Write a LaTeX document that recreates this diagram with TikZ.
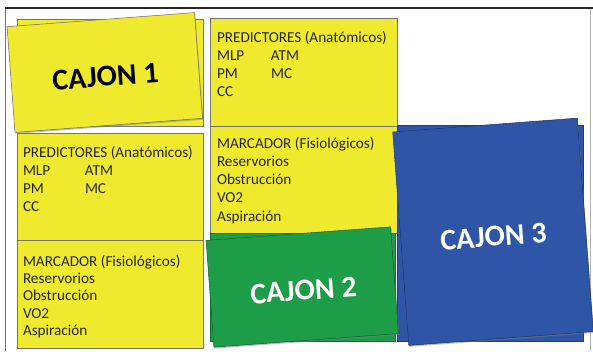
\documentclass[tikz,border=0pt]{standalone}
\usepackage{fontspec}
\setmainfont{Carlito}
\usetikzlibrary{shadows}
\definecolor{cardyellow}{RGB}{240,234,46}
\definecolor{cardgreen}{RGB}{30,157,72}
\definecolor{cardblue}{RGB}{47,86,166}
\definecolor{inktext}{RGB}{38,38,30}
\begin{document}
\begin{tikzpicture}[x=1pt,y=-1pt,
  base/.style={inner sep=0pt, outer sep=0pt},
  cell/.style={base, anchor=north west, fill=cardyellow, draw=black!55, line width=0.5pt,
    drop shadow={shadow xshift=0.8pt, shadow yshift=-1pt, opacity=0.35}},
  card/.style={base, draw=black!60, line width=0.5pt,
    drop shadow={shadow xshift=0.8pt, shadow yshift=-1.4pt, opacity=0.5}},
  cardtext/.style={base, font=\fontsize{30}{36}\selectfont\bfseries},
  txt/.style={base, anchor=base west, text=inktext, font=\fontsize{15.2}{18.3}\selectfont},
  txtb/.style={txt, font=\fontsize{15.2}{17.2}\selectfont}]
\useasboundingbox (0,0) rectangle (593,351);

% outer frame
\draw[black!30, line width=0.6pt] (590,8) -- (590,351);
\draw[black!55, line width=0.8pt] (5,351) -- (5,8);
\draw[black!85, line width=1.3pt] (5,8) -- (593,8);

% left column: card stack, predictors, markers
\node[cell, minimum width=186pt, minimum height=107pt] (back1) at (17,19) {};
\node[cell, minimum width=186pt, minimum height=107pt] (predL) at (17,133) {};
\node[cell, minimum width=186pt, minimum height=108pt] (marcL) at (17,240) {};

% middle column: predictors, markers
\node[cell, minimum width=187pt, minimum height=108pt] (predM) at (210,18) {};
\node[cell, minimum width=187pt, minimum height=107pt] (marcM) at (210,126) {};

% predictor and marker lists
\node[txt] (predLtext) at (23,157) {\begin{tabular}[t]{@{}l@{}}
  PREDICTORES (Anatómicos)\\
  \makebox[62pt][l]{MLP}ATM\\
  \makebox[62pt][l]{PM}MC\\
  CC\end{tabular}};
\node[txtb] (marcLtext) at (23,266.5) {\begin{tabular}[t]{@{}l@{}}
  MARCADOR (Fisiológicos)\\
  Reservorios\\
  Obstrucción\\
  VO2\\
  Aspiración\end{tabular}};
\node[txt] (predMtext) at (217,42) {\begin{tabular}[t]{@{}l@{}}
  PREDICTORES (Anatómicos)\\
  \makebox[54pt][l]{MLP}ATM\\
  \makebox[54pt][l]{PM}MC\\
  CC\end{tabular}};
\node[txt] (marcMtext) at (217,148) {\begin{tabular}[t]{@{}l@{}}
  MARCADOR (Fisiológicos)\\
  Reservorios\\
  Obstrucción\\
  VO2\\
  Aspiración\end{tabular}};

% CAJON 1
\node[card, fill=cardyellow, minimum width=188pt, minimum height=106pt, rotate=4.3]
  (cajon1) at (104.75,72.5) {};
\node[cardtext, text=black, rotate=4.3] (cajon1text) at (105.5,76.5) {CAJON 1};

% CAJON 3
\node[cell, fill=cardblue, draw=cardblue!70!black, minimum width=186pt, minimum height=216pt] (back3) at (397,125) {};
\node[card, fill=cardblue, draw=cardblue!60!black, minimum width=185pt, minimum height=214pt, rotate=4.3]
  (cajon3) at (493,231.75) {};
\node[cardtext, text=white, rotate=4.3] (cajon3text) at (493.5,236.5) {CAJON 3};

% CAJON 2
\node[cell, fill=cardgreen, draw=cardgreen!70!black, minimum width=185pt, minimum height=108pt] (back2) at (210,233) {};
\node[card, fill=cardgreen, draw=cardgreen!60!black, minimum width=185pt, minimum height=107pt, rotate=4.2]
  (cajon2) at (302.25,287) {};
\node[cardtext, text=white, rotate=4.2] (cajon2text) at (303.5,290.5) {CAJON 2};
\end{tikzpicture}
\end{document}
